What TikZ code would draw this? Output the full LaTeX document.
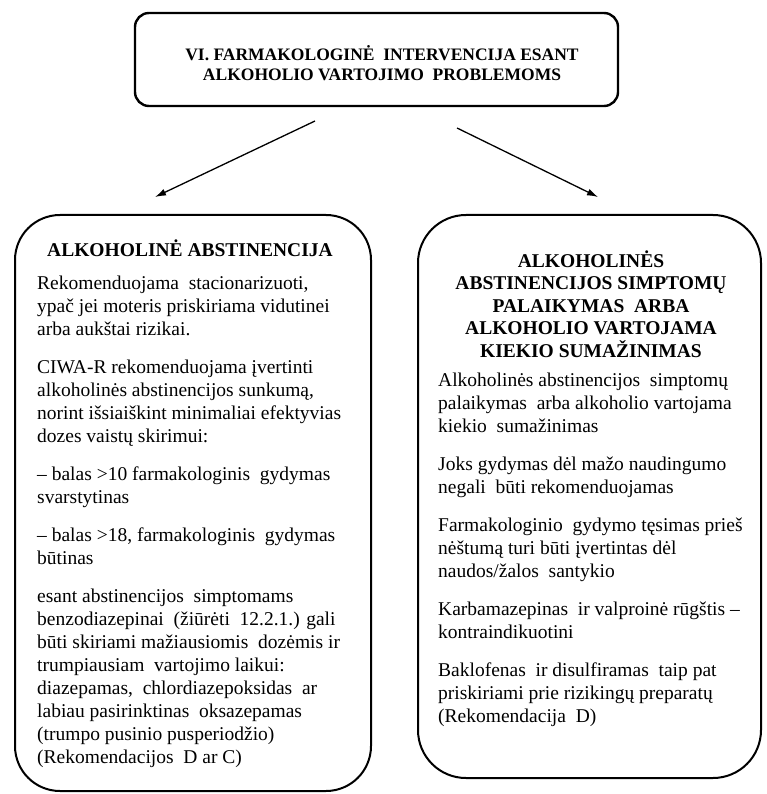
\documentclass[tikz,border=0pt]{standalone}
\usepackage{fontspec}
\setmainfont{Liberation Serif}[BoldFont={Liberation Serif Bold}]
\usetikzlibrary{arrows.meta}
\begin{document}
\begin{tikzpicture}[x=1pt,y=-1pt,
  frame/.style={draw,line width=2pt,inner sep=0pt},
  heading/.style={font=\bfseries\fontsize{19.5}{22.5}\selectfont,align=center,inner sep=0pt},
  body/.style={font=\fontsize{19.5}{23}\selectfont,align=left,inner sep=0pt,anchor=north west},
  link/.style={line width=1.3pt,-{Latex[length=11pt,width=7pt]}}]%
% page frame, in pixels of the reference
\useasboundingbox (0,0) rectangle (766,794);
\def\pgap{\\[15pt]}
% top box
\node[frame,line width=2.4pt,rounded corners=14,minimum width=483,minimum height=93] (top) at (376.5,59.5) {};
\node[heading,font=\bfseries\fontsize{17.5}{20}\selectfont,anchor=north] (toptext) at (382,45.5)
 {VI. FARMAKOLOGINĖ \ INTERVENCIJA ESANT\\ALKOHOLIO VARTOJIMO \ PROBLEMOMS};
% the two branches
\node[frame,rounded corners=45,minimum width=356,minimum height=576] (left) at (193,503) {};
\node[frame,rounded corners=48,minimum width=343,minimum height=563] (right) at (589.5,496.5) {};
\coordinate (ls) at (315,121);
\coordinate (le) at (155,197);
\coordinate (rs) at (457,128);
\coordinate (re) at (598,197);
\draw[link] (ls) -- (le);
\draw[link] (rs) -- (re);
% left box texts
\node[heading,anchor=base] (lhead) at (190,256.5) {ALKOHOLINĖ ABSTINENCIJA};
\node[body] (ltext) at (37,276)
 {Rekomenduojama \ stacionarizuoti,\\
  ypač jei moteris priskiriama vidutinei\\
  arba aukštai rizikai.\pgap
  CIWA-R rekomenduojama įvertinti\\
  alkoholinės abstinencijos sunkumą,\\
  norint išsiaiškint minimaliai efektyvias\\
  dozes vaistų skirimui:\pgap
  -- balas >10 farmakologinis \ gydymas\\
  svarstytinas\pgap
  -- balas >18, farmakologinis \ gydymas\\
  būtinas\pgap
  esant abstinencijos \ simptomams\\
  benzodiazepinai \ (žiūrėti \ 12.2.1.) gali\\
  būti skiriami mažiausiomis \ dozėmis ir\\
  trumpiausiam \ vartojimo laikui:\\
  diazepamas, \ chlordiazepoksidas \ ar\\
  labiau pasirinktinas \ oksazepamas\\
  (trumpo pusinio pusperiodžio)\\
  (Rekomendacijos \ D ar C)};
% right box texts
\node[heading,anchor=north] (rhead) at (591,250.5)
 {ALKOHOLINĖS\\ABSTINENCIJOS SIMPTOMŲ\\PALAIKYMAS \ ARBA\\ALKOHOLIO VARTOJAMA\\KIEKIO SUMAŽINIMAS};
\node[body] (rtext) at (438,373)
 {Alkoholinės abstinencijos \ simptomų\\
  palaikymas \ arba alkoholio vartojama\\
  kiekio \ sumažinimas\pgap
  Joks gydymas dėl mažo naudingumo\\
  negali \ būti rekomenduojamas\pgap
  Farmakologinio \ gydymo tęsimas prieš\\
  nėštumą turi būti įvertintas dėl\\
  naudos/žalos \ santykio\pgap
  Karbamazepinas \ ir valproinė rūgštis --\\
  kontraindikuotini\pgap
  Baklofenas \ ir disulfiramas \ taip pat\\
  priskiriami prie rizikingų preparatų\\
  (Rekomendacija \ D)};
\end{tikzpicture}
\end{document}
